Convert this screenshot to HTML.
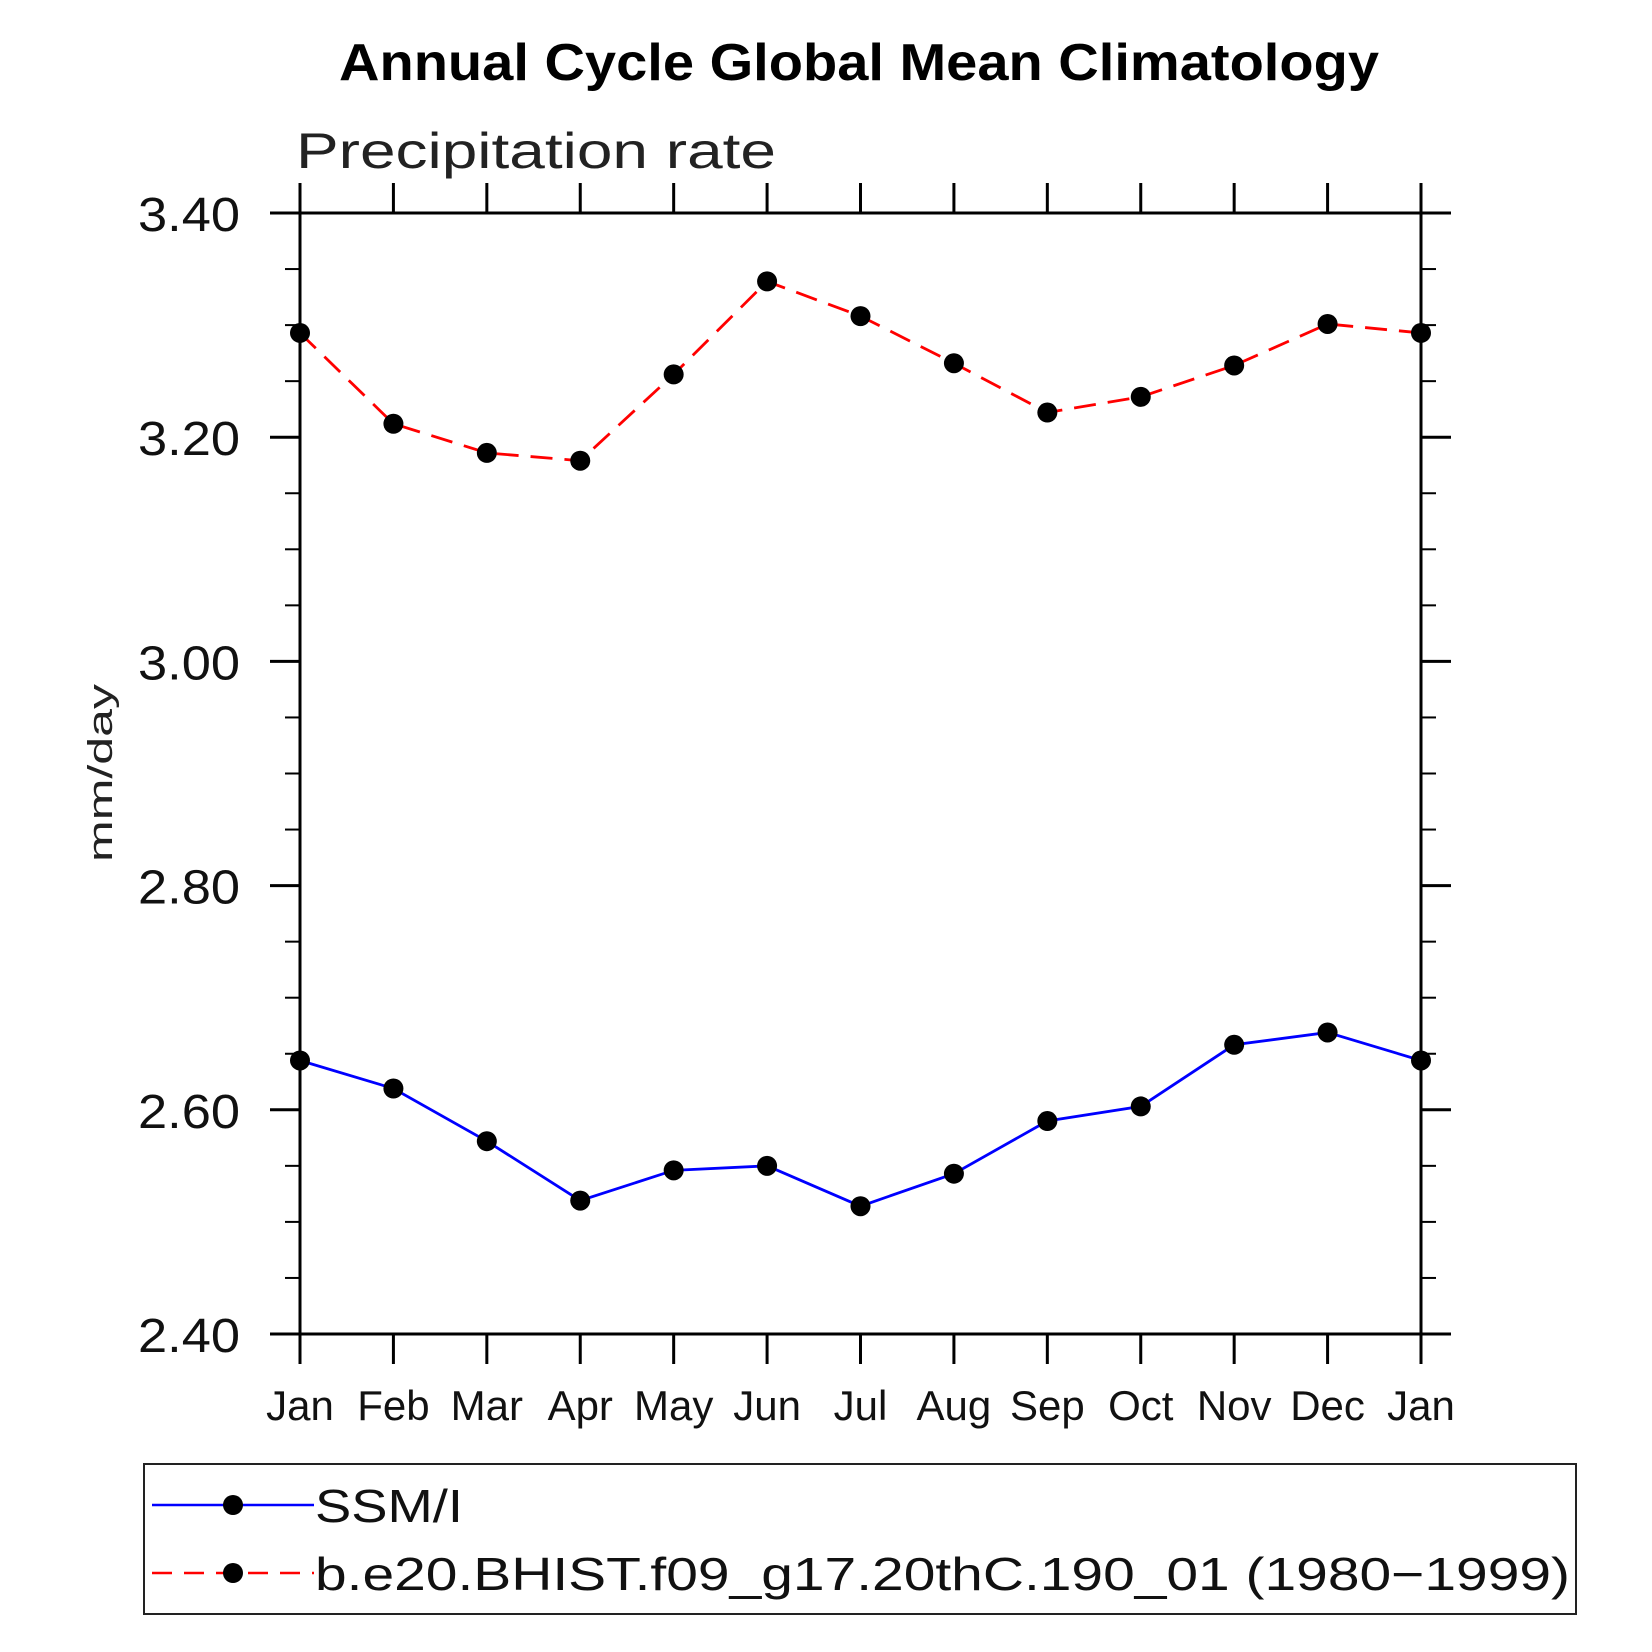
<!DOCTYPE html>
<html><head><meta charset="utf-8"><style>html,body{margin:0;padding:0;background:#fff}svg{display:block}text{font-family:"Liberation Sans",sans-serif}</style></head>
<body>
<svg id="chart" width="1652" height="1652" viewBox="0 0 1652 1652" xmlns="http://www.w3.org/2000/svg">
<text x="859" y="80" text-anchor="middle" font-size="52" font-weight="bold" textLength="1040" lengthAdjust="spacingAndGlyphs">Annual Cycle Global Mean Climatology</text>
<text x="296" y="168" font-size="50" fill="#222" textLength="480" lengthAdjust="spacingAndGlyphs">Precipitation rate</text>
<text transform="translate(112,773) rotate(-90)" text-anchor="middle" font-size="34" fill="#222" textLength="178" lengthAdjust="spacingAndGlyphs">mm/day</text>
<g id="axes"></g>
<g id="series"></g>
<g>
<rect x="144" y="1464" width="1432" height="150" fill="none" stroke="#222" stroke-width="2"/>
<g>
<line x1="152" y1="1505" x2="314" y2="1505" stroke="#0000ff" stroke-width="2.5"/>
<circle cx="233" cy="1505" r="10" fill="#000"/>
<text x="315" y="1522" font-size="46" fill="#111" textLength="148" lengthAdjust="spacingAndGlyphs">SSM/I</text>
</g>
<g>
<line x1="152" y1="1573" x2="314" y2="1573" stroke="#ff0000" stroke-width="2.5" stroke-dasharray="20,12"/>
<circle cx="233" cy="1573" r="10" fill="#000"/>
<text x="315" y="1590" font-size="46" fill="#111" textLength="1255" lengthAdjust="spacingAndGlyphs">b.e20.BHIST.f09_g17.20thC.190_01 (1980−1999)</text>
</g>
</g>
</svg>
<script>
const months = ["Jan","Feb","Mar","Apr","May","Jun","Jul","Aug","Sep","Oct","Nov","Dec","Jan"];
const ssmiValues = [2.644,2.619,2.572,2.519,2.546,2.550,2.514,2.543,2.590,2.603,2.658,2.669,2.644];
const modelValues = [3.293,3.212,3.186,3.179,3.256,3.339,3.308,3.266,3.222,3.236,3.264,3.301,3.293];
const yTickLabels = ["2.40","2.60","2.80","3.00","3.20","3.40"];
const yMin = 2.4, yMax = 3.4;

const NS = "http://www.w3.org/2000/svg";
const L = 300, R = 1421, T = 213, B = 1334;
const xs = i => L + (R - L) * i / (months.length - 1);
const ys = v => B - (B - T) * (v - yMin) / (yMax - yMin);
function mk(tag, attrs, parent) {
  const e = document.createElementNS(NS, tag);
  for (const k in attrs) e.setAttribute(k, attrs[k]);
  parent.appendChild(e);
  return e;
}
const axes = document.getElementById('axes');
const frame = mk('rect', {x: L, y: T, width: R - L, height: B - T, fill: 'none', stroke: '#000', 'stroke-width': 3}, axes);


months.forEach((m, i) => {
  const x = xs(i);
  mk('line', {x1: x, y1: B, x2: x, y2: B + 30, stroke: '#000', 'stroke-width': 3}, axes);
  mk('line', {x1: x, y1: T, x2: x, y2: T - 30, stroke: '#000', 'stroke-width': 3}, axes);
  const t = mk('text', {x: x, y: 1420, 'text-anchor': 'middle', 'font-size': 42, fill: '#111'}, axes);
  t.textContent = m;
  
  
});
for (let k = 0; k <= 20; k++) {
  const v = yMin + (yMax - yMin) * k / 20;
  const y = ys(v);
  const major = k % 4 === 0;
  const len = major ? 30 : 15;
  mk('line', {x1: L - len, y1: y, x2: L, y2: y, stroke: '#000', 'stroke-width': major ? 3 : 2}, axes);
  mk('line', {x1: R, y1: y, x2: R + len, y2: y, stroke: '#000', 'stroke-width': major ? 3 : 2}, axes);
}
yTickLabels.forEach(lbl => {
  const t = mk('text', {x: 240, y: ys(parseFloat(lbl)) + 18, 'text-anchor': 'end', 'font-size': 48, fill: '#111', textLength: 102, lengthAdjust: 'spacingAndGlyphs'}, axes);
  t.textContent = lbl;
  
  
});
const series = document.getElementById('series');
function drawSeries(vals, color, dash, name) {
  const g = mk('g', {}, series);
  
  
  const pts = vals.map((v, i) => xs(i) + ',' + ys(v)).join(' ');
  const attrs = {points: pts, fill: 'none', stroke: color, 'stroke-width': 2.8};
  if (dash) attrs['stroke-dasharray'] = dash;
  const pl = mk('polyline', attrs, g);
  
  
  vals.forEach((v, i) => {
    const c = mk('circle', {cx: xs(i), cy: ys(v), r: 10, fill: '#000'}, g);
    
    
  });
}
drawSeries(modelValues, '#ff0000', '22,12', 'model-series');
drawSeries(ssmiValues, '#0000ff', null, 'ssmi-series');
</script>
</body></html>
